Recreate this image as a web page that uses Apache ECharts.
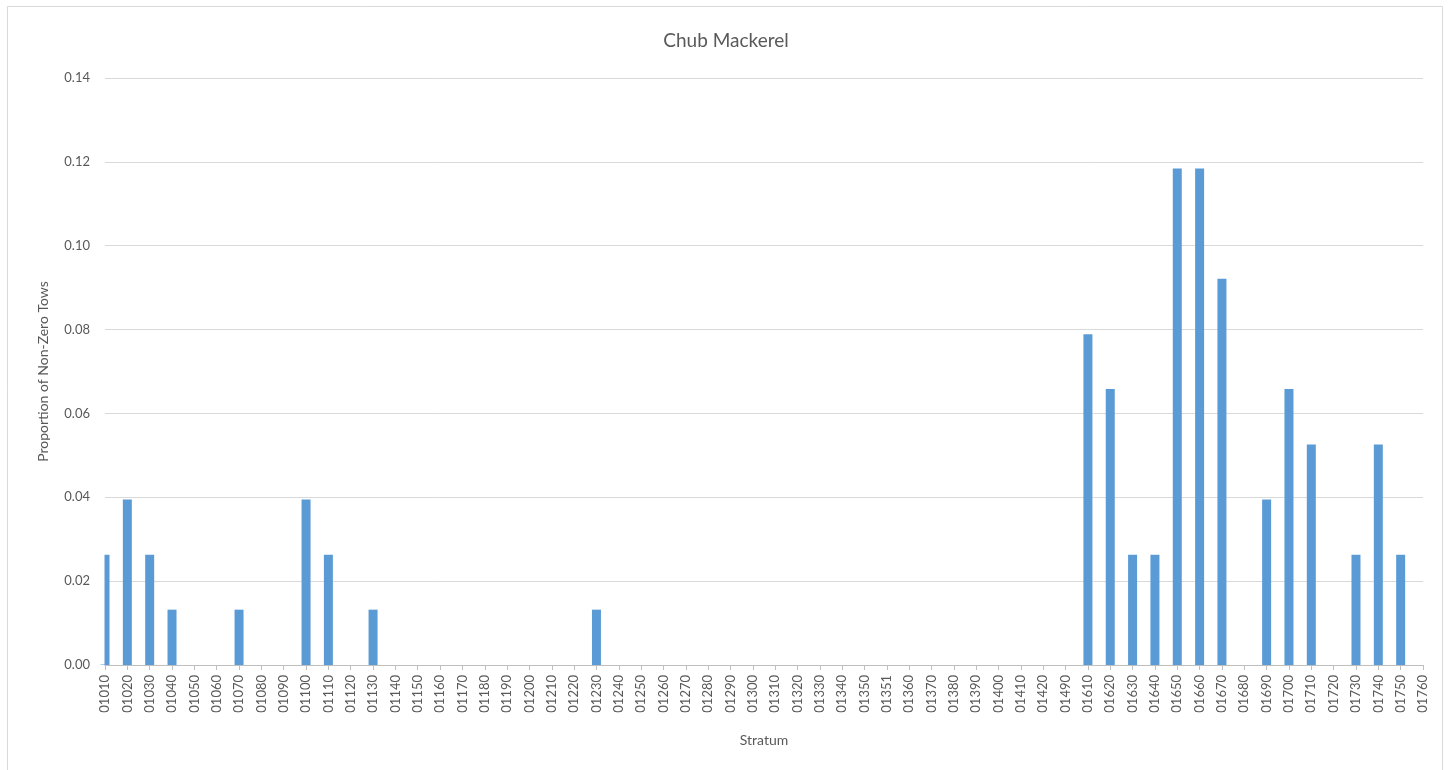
<!DOCTYPE html>
<html>
<head>
<meta charset="utf-8">
<script src="https://cdn.jsdelivr.net/npm/echarts@6/dist/echarts.min.js"></script>
<style>
html,body{margin:0;padding:0;background:#fff;}
#chart{width:1452px;height:770px;}
</style>
</head>
<body>
<div id="chart"></div>
<script>
const strata = ['01010','01020','01030','01040','01050','01060','01070','01080','01090','01100','01110','01120','01130','01140','01150','01160','01170','01180','01190','01200','01210','01220','01230','01240','01250','01260','01270','01280','01290','01300','01310','01320','01330','01340','01350','01351','01360','01370','01380','01390','01400','01410','01420','01490','01610','01620','01630','01640','01650','01660','01670','01680','01690','01700','01710','01720','01730','01740','01750','01760'];
const proportion = [0.0263,0.0395,0.0263,0.0132,0,0,0.0132,0,0,0.0395,0.0263,0,0.0132,0,0,0,0,0,0,0,0,0,0.0132,0,0,0,0,0,0,0,0,0,0,0,0,0,0,0,0,0,0,0,0,0,0.0789,0.0658,0.0263,0.0263,0.1184,0.1184,0.0921,0,0.0395,0.0658,0.0526,0,0.0263,0.0526,0.0263,0];
const yTicks = [0,0.02,0.04,0.06,0.08,0.10,0.12,0.14];

const chart = echarts.init(document.getElementById('chart'));
const font = 'Lato, "Open Sans", sans-serif';
chart.setOption({
  animation:false,
  textStyle:{fontFamily:font},
  graphic:[
    {type:'rect',shape:{x:7.5,y:6.5,width:1435,height:780},style:{fill:'none',stroke:'#d9d9d9',lineWidth:1},silent:true,z:0},
    {type:'rect',shape:{x:94,y:400,width:10.5,height:264.5},style:{fill:'#ffffff'},silent:true,z:100}
  ],
  title:{text:'Chub Mackerel',left:'center',top:26,textStyle:{fontFamily:font,fontWeight:'normal',fontSize:19,color:'#595959'}},
  grid:{left:105,right:29,top:78,bottom:105},
  xAxis:{
    type:'category',data:strata,boundaryGap:false,
    name:'Stratum',nameLocation:'middle',nameGap:68,
    nameTextStyle:{fontFamily:font,fontSize:14,color:'#595959'},
    axisLine:{lineStyle:{color:'#bfbfbf'}},
    axisTick:{show:true,length:5,lineStyle:{color:'#bfbfbf'},interval:0},
    axisLabel:{interval:0,rotate:90,fontSize:13,color:'#595959',margin:10,fontFamily:font},
    splitLine:{show:false}
  },
  yAxis:{
    type:'value',min:0,max:0.14,interval:0.02,
    name:'Proportion of Non-Zero Tows',nameLocation:'middle',nameGap:55,
    nameTextStyle:{fontFamily:font,fontSize:14,color:'#595959'},
    axisLine:{show:false},axisTick:{show:false},
    axisLabel:{fontSize:13,color:'#595959',margin:15,fontFamily:font,formatter:v=>v.toFixed(2)},
    splitLine:{lineStyle:{color:'#d9d9d9'}}
  },
  series:[{
    type:'bar',data:proportion,barWidth:9,clip:true,z:2,
    itemStyle:{color:'#5b9bd5',borderWidth:0}
  }]
});
</script>
</body>
</html>
